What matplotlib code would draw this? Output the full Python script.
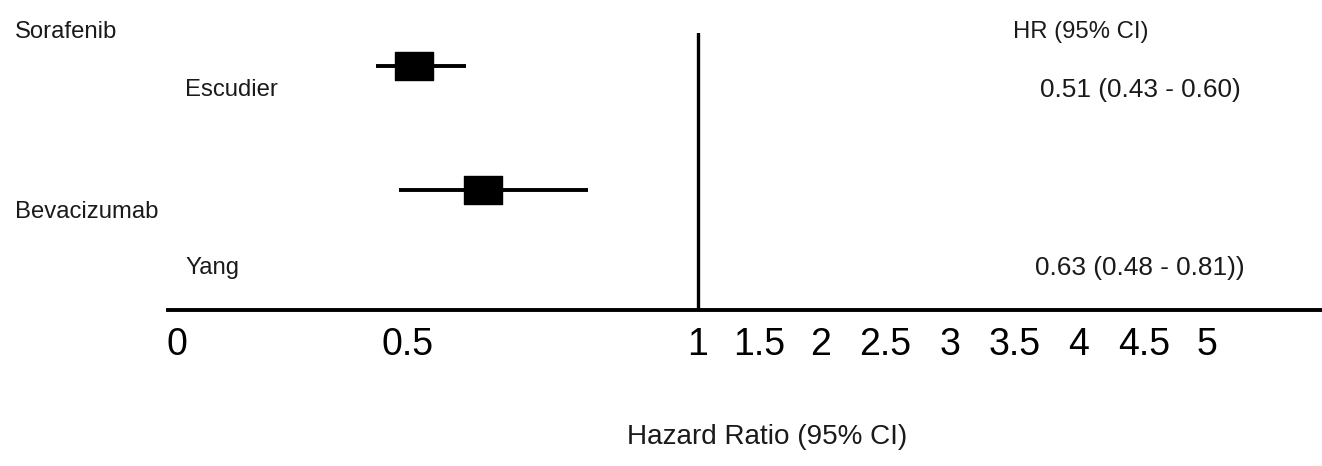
import numpy as np
import matplotlib
matplotlib.use("Agg")
import matplotlib.pyplot as plt
from matplotlib.path import Path
from matplotlib import font_manager

# ---------------- data ----------------
drugs = ["Sorafenib", "Bevacizumab"]
studies = ["Escudier", "Yang"]
hr = [0.51, 0.63]
ci_low = [0.43, 0.48]
ci_high = [0.60, 0.81]
hr_text = ["0.51 (0.43 - 0.60)", "0.63 (0.48 - 0.81))"]
tick_values = [0, 0.5, 1, 1.5, 2, 2.5, 3, 3.5, 4, 4.5, 5]
tick_labels = ["0", "0.5", "1", "1.5", "2", "2.5", "3", "3.5", "4", "4.5", "5"]

# ---------------- fonts ----------------
names = {f.name for f in font_manager.fontManager.ttflist}
fam = "Liberation Sans Narrow" if "Liberation Sans Narrow" in names else "Liberation Sans"
narrow = fam == "Liberation Sans Narrow"
scale = 1.0 if narrow else 0.82

# ---------------- layout ----------------
W, H = 1322, 466
DPI = 100
fig = plt.figure(figsize=(W / DPI, H / DPI), dpi=DPI)

ax_left_px, ax_right_px = 168, 1322
ax_top_px, ax_bot_px = 33, 310
ax = fig.add_axes([ax_left_px / W, 1 - ax_bot_px / H,
                   (ax_right_px - ax_left_px) / W, (ax_bot_px - ax_top_px) / H])

# piecewise-linear (non-uniform) HR axis, as in the original figure
knot_pos = np.array([177, 408, 698, 759, 821, 885, 950, 1015, 1079, 1144, 1207], float)
knot_hr = np.array(tick_values, float)
lo_s = (knot_pos[1] - knot_pos[0]) / (knot_hr[1] - knot_hr[0])
hi_s = (knot_pos[-1] - knot_pos[-2]) / (knot_hr[-1] - knot_hr[-2])


def fwd(x):
    x = np.asarray(x, float)
    y = np.interp(x, knot_hr, knot_pos)
    y = np.where(x < knot_hr[0], knot_pos[0] + (x - knot_hr[0]) * lo_s, y)
    y = np.where(x > knot_hr[-1], knot_pos[-1] + (x - knot_hr[-1]) * hi_s, y)
    return y


def inv(p):
    p = np.asarray(p, float)
    x = np.interp(p, knot_pos, knot_hr)
    x = np.where(p < knot_pos[0], knot_hr[0] + (p - knot_pos[0]) / lo_s, x)
    x = np.where(p > knot_pos[-1], knot_hr[-1] + (p - knot_pos[-1]) / hi_s, x)
    return x


ax.set_xscale("function", functions=(fwd, inv))
ax.set_xlim(float(inv(ax_left_px)), float(inv(ax_right_px)))

rows = np.arange(len(studies))
row_px = 124.0
top_off = 33.0
t = -top_off / row_px
b = t + (ax_bot_px - ax_top_px) / row_px
ax.set_ylim(b, t)

# rectangular (slightly wide) box marker
box = Path([(-1, -0.72), (1, -0.72), (1, 0.72), (-1, 0.72), (-1, -0.72)],
           [Path.MOVETO, Path.LINETO, Path.LINETO, Path.LINETO, Path.CLOSEPOLY])

for i in rows:
    ax.plot([ci_low[i], ci_high[i]], [i, i], color="black", lw=2.8,
            solid_capstyle="butt", zorder=2)
    ax.plot([hr[i]], [i], marker=box, markersize=27.5, color="black",
            linestyle="none", zorder=3)

ax.axvline(1, color="black", lw=2.4, ymin=0, ymax=1, zorder=1)

for s in ["top", "right", "left"]:
    ax.spines[s].set_visible(False)
ax.spines["bottom"].set_linewidth(2.8)
ax.set_yticks([])
ax.set_xticks(tick_values)
ax.set_xticklabels(tick_labels)
ax.xaxis.set_minor_locator(matplotlib.ticker.NullLocator())
ax.tick_params(axis="x", length=0, pad=12, labelsize=27)
for lab in ax.get_xticklabels():
    lab.set_fontfamily("Liberation Sans")

# ---------------- text ----------------
txt_col = "#1a1a1a"


def ftext(xpx, ypx, s, size, ha="left"):
    fig.text(xpx / W, 1 - ypx / H, s, fontsize=size * scale, ha=ha, va="center",
             family=fam, color=txt_col)


ftext(15, 32, drugs[0], 21)
ftext(185, 90, studies[0], 21)
ftext(15, 212, drugs[1], 21)
ftext(185, 268, studies[1], 21)

ftext(1013, 32, "HR (95% CI)", 21)
ftext(1040, 90, hr_text[0], 23)
ftext(1035, 268, hr_text[1], 23)

ftext(767, 437, "Hazard Ratio (95% CI)", 24.5, ha="center")

fig.savefig("out.png", dpi=DPI, facecolor="white")
